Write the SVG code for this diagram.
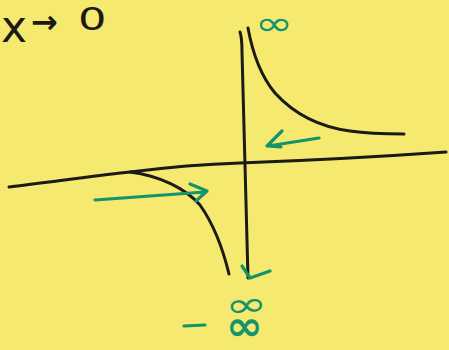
<svg xmlns="http://www.w3.org/2000/svg" width="449" height="350" viewBox="0 0 449 350">
<style>
.ink{fill:none;stroke:#1c1a14;stroke-width:3;stroke-linecap:round;stroke-linejoin:round}
.gr{fill:none;stroke:#12946c;stroke-width:3.2;stroke-linecap:round;stroke-linejoin:round}
.gt{fill:#12946c;font-family:"DejaVu Sans",sans-serif}
.bt{fill:#1c1a14;font-family:"DejaVu Sans",sans-serif}
</style>
<rect width="449" height="350" fill="#f6e970"/>
<g id="label-x">
<text class="bt" x="1" y="42" font-size="44">x</text>
<text class="bt" x="31" y="33" font-size="32" font-weight="bold">→</text>
<text class="bt" x="0" y="30" font-size="32" transform="translate(78 0) scale(1.4 1)">0</text>
</g>
<g id="axes">
<path class="ink" d="M9,187 C60,181 100,175 130,172 C170,167 210,164 240,163 C320,160 390,156 446,152"/>
<path class="ink" d="M240,32 C242,38 242,44 242,52 L248,278"/>
</g>
<g id="curves">
<path class="ink" d="M248,28 C252,50 260,75 275,93 C295,115 320,127 350,131 C370,134 390,134 404,134"/>
<path class="ink" d="M130,172 C160,176 185,188 200,205 C212,222 222,245 229,274"/>
</g>
<g id="arrows">
<path class="gr" d="M95,200 L205,192 M190,184 L207,191 L196,201"/>
<path class="gr" d="M319,138 L268,146 M282,131 L267,146 L281,147"/>
<path class="gr" d="M242,266 L250,278 L270,271"/>
</g>
<g id="labels">
<text class="gt" x="0" y="0" font-size="34" transform="translate(255 35) scale(1.35 1)">∞</text>
<text class="gt" x="0" y="0" font-size="34" transform="translate(226 318) rotate(-5) scale(1.5 1)">∞</text>
<path class="gr" d="M184,326 L205,325"/>
<text class="gt" x="0" y="0" font-size="34" font-weight="bold" transform="translate(226 340) scale(1.3 1.2)">∞</text>
</g>
</svg>
